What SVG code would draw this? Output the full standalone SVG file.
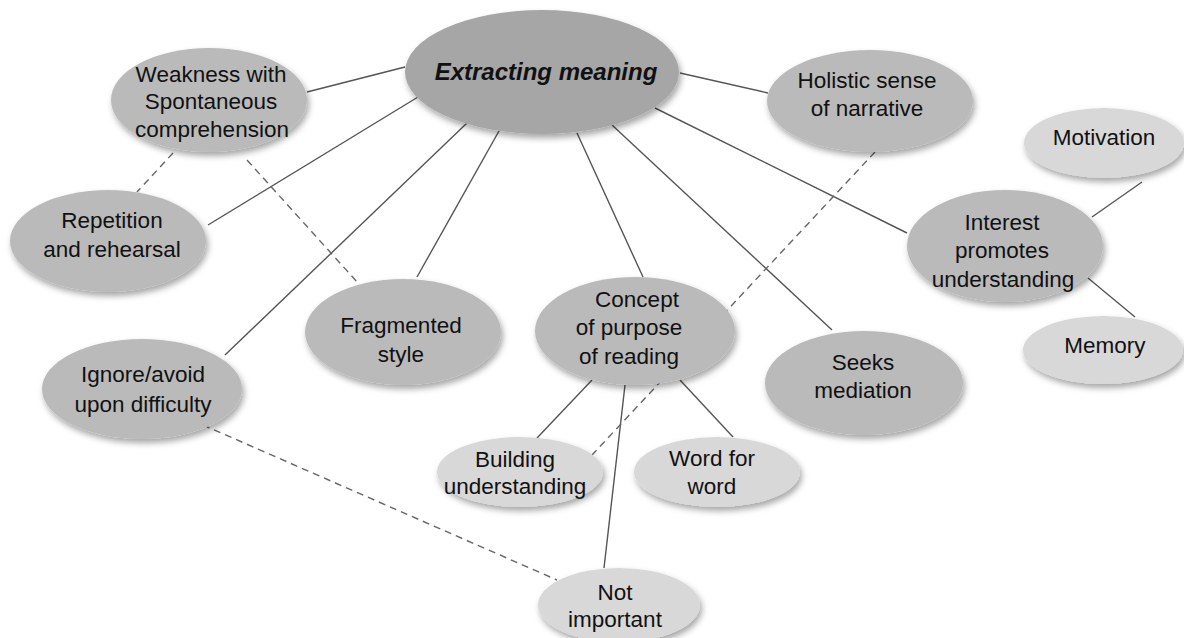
<svg xmlns="http://www.w3.org/2000/svg" width="1184" height="638" viewBox="0 0 1184 638">
  <defs>
    <filter id="shadow" x="-20%" y="-20%" width="140%" height="150%">
      <feDropShadow dx="2" dy="4" stdDeviation="3" flood-color="#000" flood-opacity="0.35"/>
    </filter>
  </defs>
  <style>
    .node ellipse { filter: url(#shadow); }
    .main { fill: #a6a6a6; }
    .mid { fill: #bababa; }
    .leaf { fill: #d8d8d8; }
    text { font-family: "Liberation Sans", Arial, sans-serif; font-size: 22.5px; fill: #111; text-anchor: middle; }
    .title { font-size: 24px; font-weight: bold; font-style: italic; }
    .link { stroke: #555; stroke-width: 1.4; fill: none; }
    .dash { stroke: #666; stroke-width: 1.4; fill: none; stroke-dasharray: 7 5; }
  </style>

  <rect width="1184" height="638" fill="#fff"/>

  <!-- connectors, drawn beneath the nodes -->
  <g id="connectors">
    <line class="link" x1="405" y1="67" x2="307" y2="92"/>
    <line class="link" x1="418" y1="97" x2="208" y2="225"/>
    <line class="link" x1="467" y1="123" x2="225" y2="355"/>
    <line class="link" x1="499" y1="131" x2="417" y2="277"/>
    <line class="link" x1="577" y1="133" x2="643" y2="277"/>
    <line class="link" x1="612" y1="125" x2="832" y2="330"/>
    <line class="link" x1="655" y1="108" x2="907" y2="233"/>
    <line class="link" x1="680" y1="73" x2="768" y2="93"/>
    <line class="link" x1="1092" y1="217" x2="1142" y2="182"/>
    <line class="link" x1="1088" y1="278" x2="1135" y2="317"/>
    <line class="link" x1="592" y1="380" x2="537" y2="438"/>
    <line class="link" x1="680" y1="380" x2="733" y2="437"/>
    <line class="link" x1="625" y1="385" x2="604" y2="568"/>
    <line class="dash" x1="173" y1="153" x2="137" y2="192"/>
    <line class="dash" x1="247" y1="160" x2="358" y2="283"/>
    <line class="dash" x1="875" y1="152" x2="592" y2="455"/>
    <line class="dash" x1="203" y1="425" x2="557" y2="580"/>
  </g>

  <g id="extracting-meaning" class="node">
    <ellipse class="main" cx="542" cy="72" rx="137" ry="62"/>
    <text class="title" x="546" y="80">Extracting meaning</text>
  </g>

  <g id="weakness" class="node">
    <ellipse class="mid" cx="209" cy="100" rx="98" ry="52"/>
    <text x="211" y="82">Weakness with</text>
    <text x="211" y="109">Spontaneous</text>
    <text x="212" y="137">comprehension</text>
  </g>

  <g id="repetition" class="node">
    <ellipse class="mid" cx="108" cy="241" rx="98" ry="51"/>
    <text x="112" y="228">Repetition</text>
    <text x="112" y="257">and rehearsal</text>
  </g>

  <g id="holistic" class="node">
    <ellipse class="mid" cx="870" cy="101" rx="103" ry="51"/>
    <text x="867" y="88">Holistic sense</text>
    <text x="867" y="116">of narrative</text>
  </g>

  <g id="motivation" class="node">
    <ellipse class="leaf" cx="1104" cy="143" rx="80" ry="35"/>
    <text x="1104" y="145">Motivation</text>
  </g>

  <g id="interest" class="node">
    <ellipse class="mid" cx="1005" cy="246" rx="98" ry="56"/>
    <text x="1002" y="230">Interest</text>
    <text x="1002" y="258">promotes</text>
    <text x="1003" y="287">understanding</text>
  </g>

  <g id="memory" class="node">
    <ellipse class="leaf" cx="1103" cy="350" rx="80" ry="34"/>
    <text x="1105" y="353">Memory</text>
  </g>

  <g id="fragmented" class="node">
    <ellipse class="mid" cx="403" cy="332" rx="98" ry="53"/>
    <text x="401" y="333">Fragmented</text>
    <text x="401" y="362">style</text>
  </g>

  <g id="concept" class="node">
    <ellipse class="mid" cx="635" cy="331" rx="100" ry="54"/>
    <text x="637" y="307">Concept</text>
    <text x="629" y="335">of purpose</text>
    <text x="629" y="364">of reading</text>
  </g>

  <g id="ignore" class="node">
    <ellipse class="mid" cx="142" cy="389" rx="100" ry="50"/>
    <text x="143" y="382">Ignore/avoid</text>
    <text x="143" y="412">upon difficulty</text>
  </g>

  <g id="seeks" class="node">
    <ellipse class="mid" cx="864" cy="383" rx="99" ry="52"/>
    <text x="863" y="370">Seeks</text>
    <text x="863" y="398">mediation</text>
  </g>

  <g id="building" class="node">
    <ellipse class="leaf" cx="520" cy="472" rx="83" ry="35"/>
    <text x="515" y="467">Building</text>
    <text x="515" y="494">understanding</text>
  </g>

  <g id="word-for-word" class="node">
    <ellipse class="leaf" cx="717" cy="472" rx="83" ry="35"/>
    <text x="712" y="466">Word for</text>
    <text x="712" y="494">word</text>
  </g>

  <g id="not-important" class="node">
    <ellipse class="leaf" cx="619" cy="605" rx="81" ry="37"/>
    <text x="615" y="600">Not</text>
    <text x="615" y="627">important</text>
  </g>
</svg>
